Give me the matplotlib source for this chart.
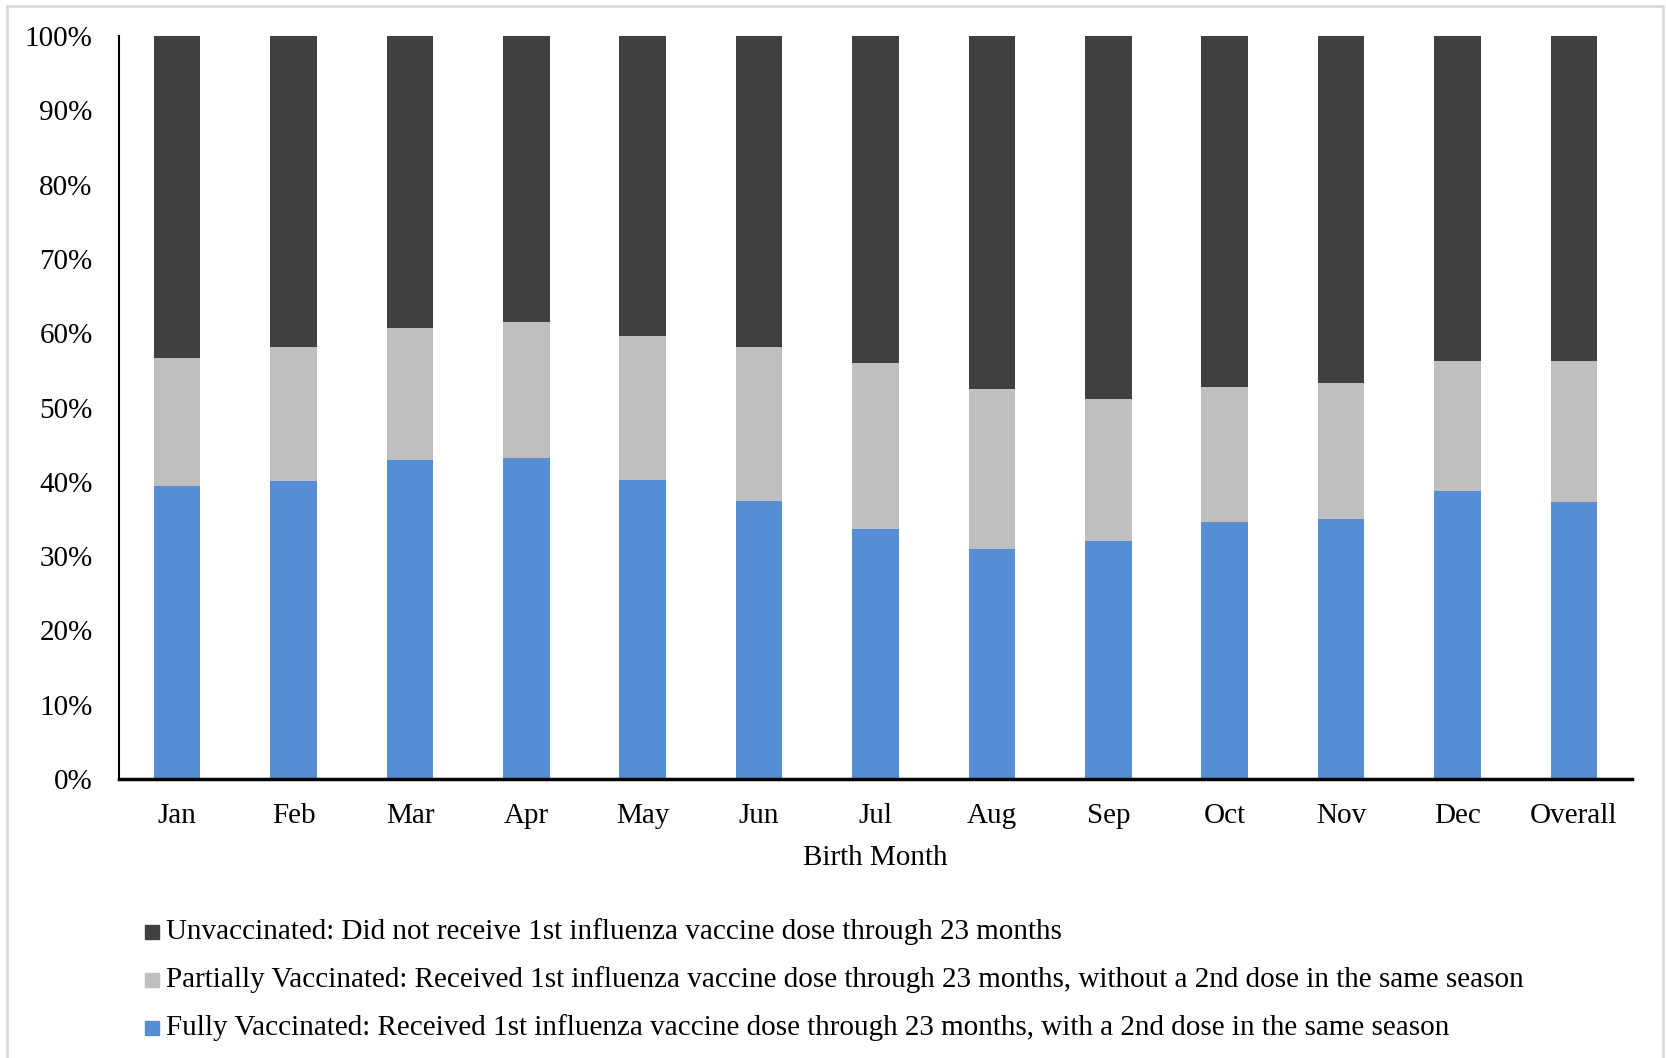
import matplotlib
matplotlib.use("Agg")
import matplotlib.pyplot as plt
from matplotlib.patches import Rectangle
import numpy as np

plt.rcParams['font.family'] = ['Liberation Serif', 'DejaVu Serif']

# Share of children by vaccination status, per birth month (percent)
months = ["Jan", "Feb", "Mar", "Apr", "May", "Jun", "Jul", "Aug", "Sep",
          "Oct", "Nov", "Dec", "Overall"]
fully = [39.5, 40.1, 42.9, 43.2, 40.3, 37.4, 33.6, 30.9, 32.0, 34.6, 35.0, 38.8, 37.3]
partially = [17.2, 18.0, 17.85, 18.3, 19.3, 20.8, 22.4, 21.6, 19.2, 18.1, 18.3, 17.5, 19.0]
unvaccinated = [100 - f - p for f, p in zip(fully, partially)]

labels = [
    "Unvaccinated: Did not receive 1st influenza vaccine dose through 23 months",
    "Partially Vaccinated: Received 1st influenza vaccine dose through 23 months, without a 2nd dose in the same season",
    "Fully Vaccinated: Received 1st influenza vaccine dose through 23 months, with a 2nd dose in the same season",
]
colors = {"unvac": "#404040", "partial": "#bfbfbf", "full": "#558ed5"}

FS = 21
W, H = 1666, 1058
fig = plt.figure(figsize=(W / 100, H / 100), dpi=100)
ax = fig.add_axes([119 / W, 1 - 779 / H, (1632 - 119) / W, (779 - 36) / H])

x = np.arange(len(months))
bw = 0.4
ax.bar(x, fully, bw, color=colors["full"], zorder=2)
ax.bar(x, partially, bw, bottom=fully, color=colors["partial"], zorder=2)
ax.bar(x, unvaccinated, bw, bottom=np.add(fully, partially), color=colors["unvac"], zorder=2)

ax.set_xlim(-0.5, len(months) - 0.5)
ax.set_ylim(0, 100)
ax.set_yticks(np.arange(0, 101, 10))
ax.set_yticklabels([f"{v}%" for v in range(0, 101, 10)])
ax.set_xticks(x)
ax.set_xticklabels(months)
ax.tick_params(axis="both", length=0, labelsize=FS, colors="black")
ax.tick_params(axis="x", pad=17)
ax.tick_params(axis="y", pad=19)

for s in ["top", "right"]:
    ax.spines[s].set_visible(False)
ax.spines["left"].set_linewidth(1.5)
ax.spines["bottom"].set_linewidth(2.5)
ax.spines["left"].set_color("black")
ax.spines["bottom"].set_color("black")

ax.set_xlabel("Birth Month", fontsize=FS, labelpad=12)

# Legend rows, drawn as square swatches with text
rows = [(932, colors["unvac"], labels[0]),
        (980, colors["partial"], labels[1]),
        (1028, colors["full"], labels[2])]
for y, c, lab in rows:
    fig.patches.append(Rectangle((145 / W, 1 - (y + 7) / H), 14 / W, 14 / H,
                                 transform=fig.transFigure, color=c))
    fig.text(166 / W, 1 - y / H, lab, fontsize=FS, va="center", ha="left")

# Light frame around the chart area
fig.patches.append(Rectangle((7 / W, -0.01), (1663 - 7) / W, 1.01 - 6 / H,
                             transform=fig.transFigure, fill=False,
                             edgecolor="#d9d9d9", linewidth=2))

fig.savefig("out.png", dpi=100)
